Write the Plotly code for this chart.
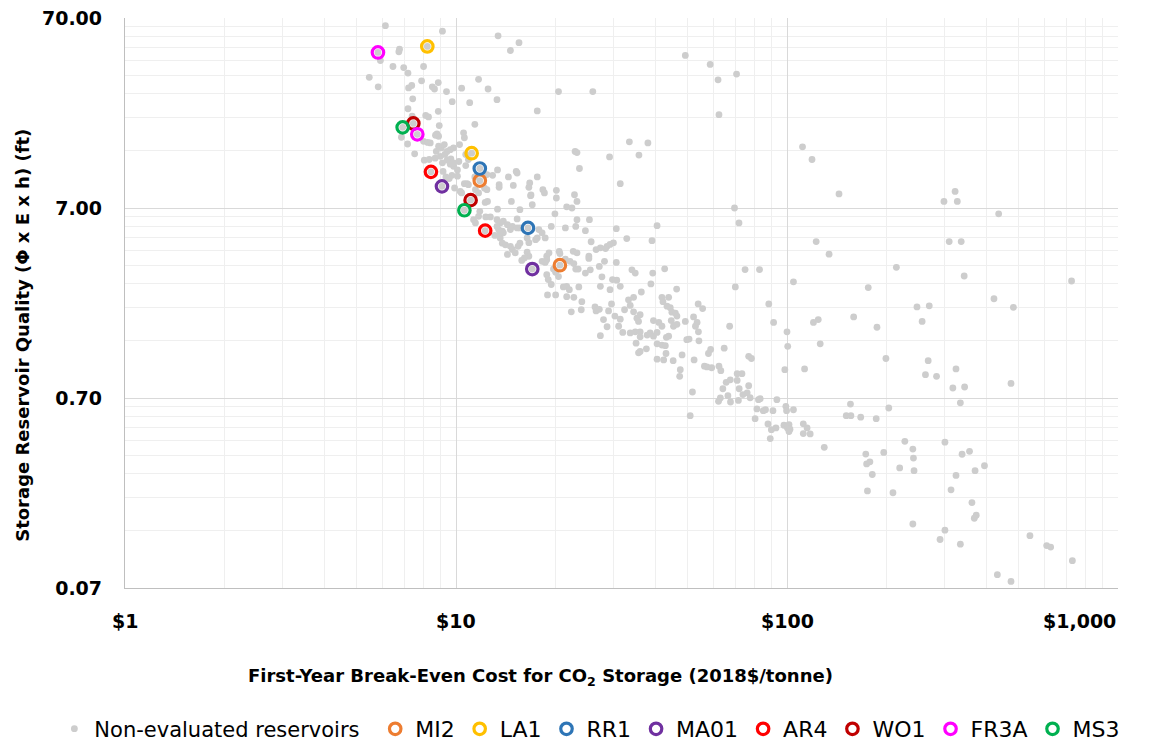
import plotly.graph_objects as go

# ---------------- data ----------------
cost_other = [
    6.12, 9.10, 13.4, 15.5, 14.6, 6.75, 6.72, 5.91, 6.45, 6.95,
    7.16, 7.98, 5.47, 5.82, 7.87, 7.19, 7.35, 8.48, 8.61, 8.84,
    9.36, 10.4, 11.7, 12.5, 13.3, 20.4, 25.9, 7.40, 9.74, 11.0,
    7.16, 8.84, 17.6, 8.10, 8.26, 7.37, 11.4, 8.90, 6.84, 7.14,
    7.50, 8.76, 8.86, 8.67, 10.54, 10.6, 7.98, 8.21, 8.36, 8.86,
    9.03, 9.22, 8.72, 8.97, 9.26, 9.83, 10.25, 10.7, 10.9, 8.02,
    8.30, 9.10, 9.40, 9.65, 9.61, 9.83, 10.1, 10.7, 9.14, 10.1,
    9.32, 9.54, 12.4, 12.9, 13.35, 14.4, 15.2, 15.3, 17.6, 13.5,
    13.5, 14.9, 16.7, 16.6, 18.3, 18.5, 20.1, 22.8, 23.2, 20.1,
    16.85, 14.7, 17.0, 12.25, 12.45, 10.6, 10.8, 9.9, 10.3, 10.4,
    11.45, 11.7, 11.4, 9.61, 9.40, 8.65, 9.83, 10.2, 22.9, 23.2,
    29.1, 23.6, 9.72, 31.35, 10.9, 12.2, 12.4, 15.6, 13.35, 11.8,
    11.7, 11.3, 11.45, 12.3, 12.7, 13.3, 13.6, 13.9, 14.3, 14.8,
    14.6, 15.3, 13.8, 13.9, 15.3, 15.6, 17.8, 18.2, 19.4, 19.9,
    21.6, 22.4, 23.2, 25.3, 21.4, 23.0, 30.5, 29.9, 29.2, 28.6,
    25.6, 26.5, 27.3, 25.2, 22.6, 23.2, 20.5, 20.6, 18.8, 19.1,
    17.6, 17.4, 18.6, 16.4, 16.6, 15.6, 15.4, 14.6, 14.8, 13.6,
    13.8, 14.1, 14.3, 15.1, 16.4, 16.6, 13.3, 13.45, 13.6, 13.1,
    16.8, 24.6, 32.8, 25.2, 28.1, 30.5, 27.1, 25.45, 24.6, 23.0,
    23.4, 22.1, 22.7, 21.4, 19.7, 20.0, 18.8, 18.6, 18.2, 16.1,
    15.8, 18.8, 19.0, 19.4, 20.4, 21.6, 21.1, 22.0, 23.5, 27.6,
    27.3, 29.2, 30.6, 31.35, 34.0, 34.8, 18.9, 20.0, 21.6, 22.7,
    24.0, 22.3, 23.9, 26.3, 27.1, 26.5, 29.5, 28.9, 30.2, 31.35,
    27.9, 28.6, 32.3, 33.2, 34.4, 33.6, 34.4, 35.2, 35.6, 27.3,
    31.0, 31.9, 33.6, 34.8, 35.0, 35.6, 40.5, 39.1, 28.3, 69.4,
    71.6, 122.5, 39.3, 42.7, 74.7, 82.6, 104.6, 69.8, 29.7, 38.8,
    46.4, 36.3, 41.9, 43.9, 42.2, 43.4, 44.4, 44.9, 46.0, 46.5,
    36.0, 39.5, 41.0, 41.9, 44.7, 45.4, 46.5, 49.3, 52.2, 53.9,
    55.6, 53.5, 52.9, 67.1, 88.1, 91.1, 120.2, 124.3, 49.3, 58.6,
    61.9, 70.4, 62.3, 33.4, 38.0, 35.7, 111.4, 119, 143.6, 322,
    298, 327, 436, 134, 214, 309, 336, 343, 724, 176,
    422, 483, 247, 269, 256, 159, 187, 100, 100.5, 126,
    36.0, 36.0, 37.8, 38.6, 39.5, 37.6, 36.0, 40.5, 40.5, 41.9,
    42.9, 43.2, 43.9, 40.5, 42.4, 43.1, 45.3, 48.2, 47.6, 47.4,
    54.0, 54.2, 49.8, 50.6, 52.4, 57.9, 58.8, 56.3, 57.3, 59.2,
    62.3, 63.1, 64.6, 51.8, 51.0, 62.9, 62.1, 66.3, 67.5, 65.5,
    67.4, 70.7, 73.1, 70.7, 64.0, 71.7, 71.3, 73.6, 75.8, 76.6,
    76.6, 78.1, 77.4, 82.0, 83.0, 81.1, 86.1, 84.8, 80.1, 90.7,
    93.2, 87.6, 89.7, 92.6, 89.0, 98.5, 99.2, 99.7, 97.9, 101.4,
    100.3, 102.1, 101.4, 104.6, 113, 112, 115, 112, 117.5, 129.6,
    155.5, 151, 156, 167, 186, 173, 174, 178, 181, 175,
    199, 267, 262, 283, 324, 317, 344, 475, 203, 334,
    227, 240, 241, 196, 300, 338, 356, 219, 242, 324,
    370, 395, 209, 313, 362, 373, 368, 240, 300, 290,
    334, 542, 609, 626, 728, 432, 475,
]
quality_other = [
    63.8, 59.7, 56.4, 51.9, 47.2, 48.0, 46.5, 41.8, 38.9, 38.4,
    35.9, 38.9, 34.1, 30.4, 32.7, 30.0, 30.9, 30.4, 29.6, 32.0,
    28.7, 29.9, 33.3, 29.6, 26.0, 28.7, 28.7, 26.3, 25.4, 25.1,
    23.3, 22.6, 22.7, 21.5, 21.1, 21.3, 19.3, 19.0, 16.5, 15.2,
    13.5, 17.2, 16.7, 16.9, 17.4, 16.4, 15.7, 15.5, 15.4, 14.8,
    14.5, 15.1, 13.9, 13.1, 13.4, 14.5, 15.1, 13.4, 12.6, 12.5,
    12.6, 12.1, 12.5, 12.7, 11.9, 11.6, 11.1, 11.7, 10.9, 10.3,
    10.2, 10.0, 10.5, 10.4, 11.1, 10.2, 10.9, 10.7, 10.2, 9.29,
    8.99, 9.2, 9.49, 8.99, 8.74, 8.40, 8.67, 8.22, 7.58, 7.90,
    8.2, 7.58, 7.28, 7.49, 7.58, 9.40, 9.40, 8.92, 8.56, 8.40,
    8.74, 8.40, 10.2, 14.2, 13.9, 12.8, 12.1, 12.3, 13.9, 13.7,
    13.0, 11.3, 10.4, 9.40, 9.29, 8.9, 8.74, 6.86, 6.9, 6.72,
    6.33, 6.08, 5.84, 6.28, 6.28, 6.08, 5.84, 5.96, 5.72, 5.60,
    5.39, 6.13, 5.28, 5.18, 5.5, 5.5, 5.39, 5.18, 5.60, 6.52,
    7.10, 7.0, 6.08, 6.08, 5.5, 5.6, 5.45, 4.59, 4.5, 4.4,
    4.65, 4.23, 4.32, 3.9, 4.14, 4.06, 4.14, 4.03, 3.9, 4.06,
    4.87, 4.77, 4.87, 4.87, 4.6, 4.57, 4.4, 4.4, 4.23, 4.87,
    4.57, 4.48, 3.99, 4.06, 4.1, 3.9, 5.6, 5.39, 5.22, 5.02,
    8.13, 5.32, 4.83, 3.80, 3.67, 3.62, 3.45, 3.31, 3.18, 3.34,
    3.34, 3.67, 3.57, 3.77, 3.34, 3.21, 3.74, 3.62, 3.67, 3.82,
    3.71, 3.12, 2.94, 2.77, 3.05, 2.71, 2.69, 2.60, 2.69, 3.04,
    2.71, 2.60, 2.92, 2.71, 3.31, 3.18, 2.44, 2.44, 2.39, 2.37,
    2.25, 1.99, 2.04, 2.11, 2.05, 2.01, 2.19, 2.01, 1.89, 1.82,
    1.81, 1.66, 2.04, 2.30, 2.37, 2.15, 1.99, 1.84, 1.77, 1.49,
    1.67, 1.55, 1.54, 1.56, 1.36, 1.21, 5.65, 4.71, 4.28, 7.0,
    5.84, 4.66, 3.18, 3.35, 3.32, 3.32, 2.86, 2.69, 2.94, 2.79,
    2.62, 2.53, 2.37, 2.37, 2.25, 2.13, 2.09, 1.98, 1.96, 1.89,
    1.92, 1.79, 1.75, 1.67, 1.79, 1.67, 1.71, 1.77, 1.87, 2.19,
    2.07, 1.75, 1.67, 1.67, 2.19, 1.75, 1.75, 1.81, 44.5, 39.9,
    33.1, 35.5, 21.7, 15.6, 15.4, 13.3, 14.7, 12.6, 8.3, 8.56,
    7.58, 7.58, 6.52, 4.0, 3.41, 4.66, 4.66, 3.07, 2.89, 2.67,
    2.33, 2.10, 2.11, 2.14, 1.77, 1.87, 1.65, 1.56, 1.31, 1.35,
    1.56, 1.47, 1.50, 1.54, 1.48, 1.27, 1.23, 1.55, 1.35, 1.33,
    1.32, 1.46, 1.48, 1.12, 1.11, 1.20, 1.10, 1.18, 0.987, 0.91,
    1.56, 1.40, 1.42, 1.43, 1.11, 1.20, 1.26, 1.03, 1.02, 1.01,
    1.03, 0.975, 1.28, 0.753, 0.565, 0.701, 0.672, 0.72, 0.667, 0.846,
    0.873, 0.866, 0.94, 0.94, 0.783, 0.783, 0.68, 0.73, 0.745, 0.812,
    1.16, 1.13, 0.702, 0.686, 0.694, 0.613, 0.607, 0.60, 0.545, 0.60,
    0.686, 0.511, 0.477, 0.487, 0.428, 0.987, 0.633, 0.60, 0.503, 0.507,
    0.487, 0.48, 0.466, 0.607, 0.996, 0.512, 0.487, 0.455, 0.453, 0.385,
    0.65, 0.565, 0.565, 0.555, 0.545, 0.355, 0.315, 0.323, 0.277, 0.227,
    1.13, 1.10, 0.929, 0.91, 0.996, 0.79, 0.80, 0.835, 0.62, 0.66,
    0.414, 0.377, 0.338, 0.362, 0.41, 0.354, 0.367, 0.30, 0.29, 0.274,
    0.29, 0.308, 0.222, 0.230, 0.197, 0.169, 0.163, 0.152, 0.141, 0.126,
    0.119, 0.132, 0.117, 0.115, 0.0975, 0.0823, 0.0758,
]

# evaluated reservoirs (two points each)
evaluated_names = ["MI2", "LA1", "RR1", "MA01", "AR4", "WO1", "FR3A", "MS3"]
evaluated_cost = {
    "MI2": [11.8, 20.6],
    "LA1": [8.19, 11.15],
    "RR1": [11.8, 16.5],
    "MA01": [9.07, 17.0],
    "AR4": [8.4, 12.25],
    "WO1": [7.43, 11.07],
    "FR3A": [5.81, 7.64],
    "MS3": [6.90, 10.6],
}
evaluated_quality = {
    "MI2": [9.75, 3.5],
    "LA1": [49.6, 13.6],
    "RR1": [11.3, 5.5],
    "MA01": [9.1, 3.34],
    "AR4": [10.85, 5.32],
    "WO1": [19.5, 7.7],
    "FR3A": [46.1, 17.1],
    "MS3": [18.6, 6.81],
}
evaluated_colors = {
    "MI2": "#ED7D31",
    "LA1": "#FFC000",
    "RR1": "#2E75B6",
    "MA01": "#7030A0",
    "AR4": "#FF0000",
    "WO1": "#C00000",
    "FR3A": "#FF00FF",
    "MS3": "#00B050",
}

x_tick_vals = [1, 10, 100, 1000]
x_tick_text = ["$1", "$10", "$100", "$1,000"]
y_tick_vals = [0.07, 0.7, 7, 70]
y_tick_text = ["0.07", "0.70", "7.00", "70.00"]

x_title = "First-Year Break-Even Cost for CO<sub>2</sub> Storage (2018$/tonne)"
y_title = "Storage Reservoir Quality (\u03a6 x E x h) (ft)"
other_name = "Non-evaluated reservoirs"

# ---------------- figure ----------------
FONT = "DejaVu Sans"
GREY_PT = "#CDCDCD"

fig = go.Figure()

# all reservoirs in grey (evaluated ones too, they sit under the rings)
all_cost = list(cost_other)
all_quality = list(quality_other)
for n in evaluated_names:
    all_cost += evaluated_cost[n]
    all_quality += evaluated_quality[n]

fig.add_trace(go.Scatter(
    x=all_cost, y=all_quality, mode="markers", name=other_name,
    marker=dict(color=GREY_PT, size=6.8, line=dict(width=0)),
    hoverinfo="skip", legend="legend",
))

for n in evaluated_names:
    fig.add_trace(go.Scatter(
        x=evaluated_cost[n], y=evaluated_quality[n], mode="markers", name=n,
        marker=dict(symbol="circle-open", color=evaluated_colors[n], size=11.5,
                    line=dict(width=3.2, color=evaluated_colors[n])),
        legend="legend2",
    ))

minor_y = [k * v for v in [0.07, 0.7, 7] for k in range(2, 10)]
minor_x = [k * v for v in [1, 10, 100] for k in range(2, 10)]

fig.update_xaxes(
    type="log", range=[0, 3],
    tickvals=x_tick_vals, ticktext=x_tick_text, showticklabels=False,
    showgrid=True, gridcolor="#D9D9D9", gridwidth=1.3,
    minor=dict(tickmode="array", tickvals=minor_x, showgrid=True,
               gridcolor="#EFEFEF", gridwidth=1.3, ticks=""),
    showline=True, linecolor="#BFBFBF", linewidth=1.3,
    zeroline=False, ticks="", automargin=False,
)
fig.update_yaxes(
    type="log", range=[-1.154902, 1.845098],
    tickvals=y_tick_vals, ticktext=y_tick_text,
    tickfont=dict(family=FONT, size=19, color="#000000", weight="bold"),
    ticklabelstandoff=18,
    showgrid=True, gridcolor="#D9D9D9", gridwidth=1.3,
    minor=dict(tickmode="array", tickvals=minor_y, showgrid=True,
               gridcolor="#EFEFEF", gridwidth=1.3, ticks=""),
    showline=True, linecolor="#BFBFBF", linewidth=1.3,
    zeroline=False, ticks="", automargin=False,
)

annotations = []
for i, (v, t) in enumerate(zip(x_tick_vals, x_tick_text)):
    annotations.append(dict(
        x=i, xref="x", y=-0.058, yref="paper", text=t, showarrow=False,
        xanchor="right" if v == x_tick_vals[-1] else "center", yanchor="middle",
        font=dict(family=FONT, size=19, color="#000000", weight="bold"),
    ))
annotations.append(dict(
    x=0.418, xref="paper", y=-0.157, yref="paper", text=x_title,
    showarrow=False, xanchor="center", yanchor="middle",
    font=dict(family=FONT, size=18, color="#000000", weight="bold"),
))
annotations.append(dict(
    x=-0.1034, xref="paper", y=0.443, yref="paper", text=y_title,
    showarrow=False, xanchor="center", yanchor="middle", textangle=-90,
    font=dict(family=FONT, size=18, color="#000000", weight="bold"),
))

legend_common = dict(
    orientation="h", xref="container", yref="container",
    xanchor="left", y=0.0175, yanchor="middle",
    itemwidth=30, tracegroupgap=0, bgcolor="rgba(0,0,0,0)",
)

fig.update_layout(
    width=1152, height=742,
    margin=dict(l=125, r=34, t=18, b=154, autoexpand=False),
    paper_bgcolor="#FFFFFF", plot_bgcolor="#FFFFFF",
    font=dict(family=FONT, color="#000000"),
    showlegend=True,
    legend=dict(x=0.0472, font=dict(family=FONT, size=21, color="#000000"),
                **legend_common),
    legend2=dict(x=0.3257, font=dict(family=FONT, size=22, color="#000000"),
                 **legend_common),
    annotations=annotations,
)

fig.write_html("out.html", config={"displayModeBar": False},
               post_script="document.body.style.margin='0';")
